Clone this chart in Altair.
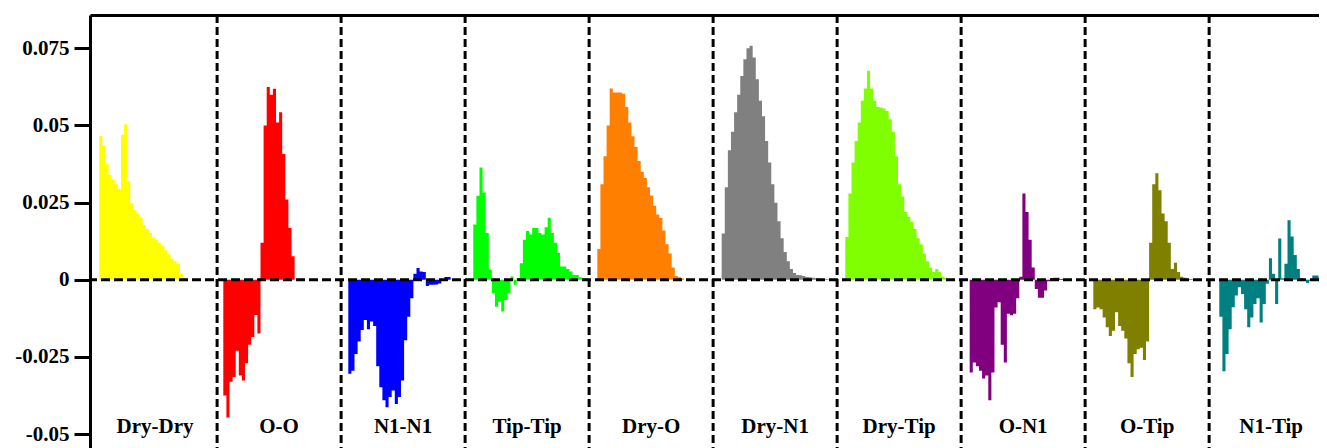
import altair as alt
import pandas as pd

# Panel (pair) names and colours, left to right
pair_names = ["Dry-Dry", "O-O", "N1-N1", "Tip-Tip", "Dry-O",
              "Dry-N1", "Dry-Tip", "O-N1", "O-Tip", "N1-Tip"]
pair_colors = ["#FFFF00", "#FF0000", "#0000FF", "#00FF00", "#FF8000",
               "#808080", "#80FF00", "#800080", "#808000", "#008080"]

# x position (in panel units) of the first histogram bin of every panel
series_start = [0.050, 1.050, 2.058, 3.066, 4.066, 5.069, 6.066, 7.069, 8.066, 9.082]
bin_width = 0.025

# histogram heights, in units of 1e-3
dry_dry = [46.6, 43.5, 37.5, 34, 32.5, 31, 29.5, 47, 50.4, 32, 24.8, 22.5, 21.3, 20.1,
           17.8, 16.5, 15.2, 13.8, 13, 12, 11, 9.6, 8.3, 6.8, 6, 5.2, 2, 0.4]
o_o = [-37.5, -44.6, -33, -31.5, -23, -31, -32.6, -27, -21, -18.5, -11.4, -17.4,
       12, 50, 62.5, 60, 61.9, 51, 54.3, 40.8, 26, 16.8, 7.6]
n1_n1 = [-30.4, -29.5, -24, -20, -16.3, -13, -16, -13.5, -15, -28, -34.8, -39, -41.3,
         -38, -35.9, -40.2, -38, -32.6, -19.6, -12, -6, 2, 3.8, 2.7, 2.5, -2, -1.6,
         -1.6, -1.5, -1.2, 0.3, 0.9, 0.9]
tip_tip = [17.9, 27.2, 36.4, 28.3, 15.2, 3.3, -4.3, -8.7, -7, -10.3, -6.5, -4.3, 1.1,
           -1.6, 0.5, 5.4, 13, 15.8, 14.7, 16.8, 16.8, 15.2, 14.7, 17, 20.1, 15.2, 12,
           8.7, 4.3, 4.3, 3.5, 2.7, 1.6, 1.6, 0.8, 0.5, 0.5]
dry_o = [10, 31, 40, 50, 62, 60.7, 60.7, 60.7, 60.3, 56, 51, 46.5, 43, 38.5, 35, 33,
         30, 27.3, 24, 21.2, 20, 16, 11.5, 8.5, 4, 1.2, 0.8, 0.4]
dry_n1 = [15, 30, 42, 48, 54.3, 60, 66, 71.5, 75, 75.8, 72, 65, 58, 53, 45, 38, 31, 25,
          19, 13.5, 9, 6, 3.5, 2.2, 1.6, 1.5, 1.2, 0.9, 0.8, 0.7, 0.5, 0.4, 0.3, 0.3, 0.2]
dry_tip = [13.9, 28, 38, 45, 51, 58, 62, 67.7, 62, 58, 56, 55.8, 55.5, 54.7, 52, 48, 40,
           31, 27, 22, 20.4, 18.8, 16.5, 13.5, 11.5, 8.5, 6, 4, 2.5, 3.5, 2.5, 1, 0.6, 0.3]
o_n1 = [-30, -26.8, -28, -29.5, -32, -31, -39, -30, -9, -7.3, -21, -26.8, -11, -11.5,
        -11, -6, 1, 28, 22, 13, 4, -3, -5.8, -5.8, -3.5, -0.5, 0.5, 0.7, 0.7, 0.3, 0.3, 0.3]
o_tip = [-9.5, -9, -9.5, -12.2, -15.4, -18.2, -16.5, -10.5, -15, -16.5, -19, -27, -31.5,
         -24, -22.5, -22, -26, -20, 12, 31, 34.5, 29, 21.5, 19, 12, 3.5, 5.5, 2.5, 1,
         0.7, 0.3, 0.3, 0.2]
n1_tip = [-12, -29.6, -24, -16, -8.9, -5.1, -2.4, -4.6, -9.5, -15.4, -12.2, -7.8, -6,
          -13.8, -7.8, -1.3, 7, 2, -7.8, 13.4, 0.5, 5.2, 19.3, 14, 8, 3.5, 0.5, -0.3, -1,
          -0.3, 1.4, 1.4, 0.7, 0.7]

series_values = [dry_dry, o_o, n1_n1, tip_tip, dry_o, dry_n1, dry_tip, o_n1, o_tip, n1_tip]

y_tick_values = [-0.05, -0.025, 0, 0.025, 0.05, 0.075]
divider_positions = [1, 2, 3, 4, 5, 6, 7, 8, 9]

rows = []
for name, start, vals in zip(pair_names, series_start, series_values):
    for k, v in enumerate(vals):
        rows.append({"pair": name, "x": start + k * bin_width, "y": v / 1000})
    rows.append({"pair": name, "x": start + len(vals) * bin_width, "y": vals[-1] / 1000})
df = pd.DataFrame(rows)

serif = "Liberation Serif"

x_scale = alt.Scale(domain=[-0.025, 9.886], nice=False, zero=False)
y_scale = alt.Scale(domain=[-0.06, 0.0858], nice=False, zero=False)

# top axis: only its black domain line, acting as the frame's top border
x_axis = alt.Axis(orient="top", title=None, labels=False, ticks=False, grid=False,
                  domainColor="black", domainWidth=3)
y_axis = alt.Axis(values=y_tick_values, title=None, grid=False,
                  labelExpr="replace(format(datum.value, '.3~f'), '\u2212', '-')",
                  labelFont=serif, labelFontWeight="bold", labelFontSize=21,
                  labelColor="black", labelPadding=5,
                  tickSize=16, tickWidth=3, tickColor="black",
                  domainColor="black", domainWidth=3)

areas = alt.Chart(df).mark_area(interpolate="step-after", clip=True).encode(
    x=alt.X("x:Q", scale=x_scale, axis=x_axis, title=None),
    y=alt.Y("y:Q", scale=y_scale, stack=None, axis=y_axis, title=None),
    y2=alt.datum(0),
    color=alt.Color("pair:N", scale=alt.Scale(domain=pair_names, range=pair_colors),
                    legend=None),
)

dividers = alt.Chart(pd.DataFrame({"x": divider_positions})).mark_rule(
    color="black", strokeWidth=3, strokeDash=[8, 4]
).encode(x=alt.X("x:Q", scale=x_scale, axis=x_axis, title=None))

zero_line = alt.Chart(pd.DataFrame({"y": [0]})).mark_rule(
    color="black", strokeWidth=3, strokeDash=[9, 4]
).encode(y=alt.Y("y:Q", scale=y_scale, axis=y_axis, title=None))

label_df = pd.DataFrame({"pair": pair_names,
                         "center": [i + 0.5 for i in range(len(pair_names))]})
labels = alt.Chart(label_df).mark_text(
    font=serif, fontWeight="bold", fontSize=21, baseline="alphabetic",
    align="center", color="black"
).encode(
    x=alt.X("center:Q", scale=x_scale, axis=x_axis, title=None),
    y=alt.value(418),
    text="pair:N",
)

chart = alt.layer(areas, dividers, zero_line, labels).properties(
    width=1229, height=450, autosize="none",
    padding={"left": 82, "top": 7, "right": 0, "bottom": 0},
).configure_view(strokeWidth=0)

chart.save("out.html", embed_options={"renderer": "svg", "actions": False})
